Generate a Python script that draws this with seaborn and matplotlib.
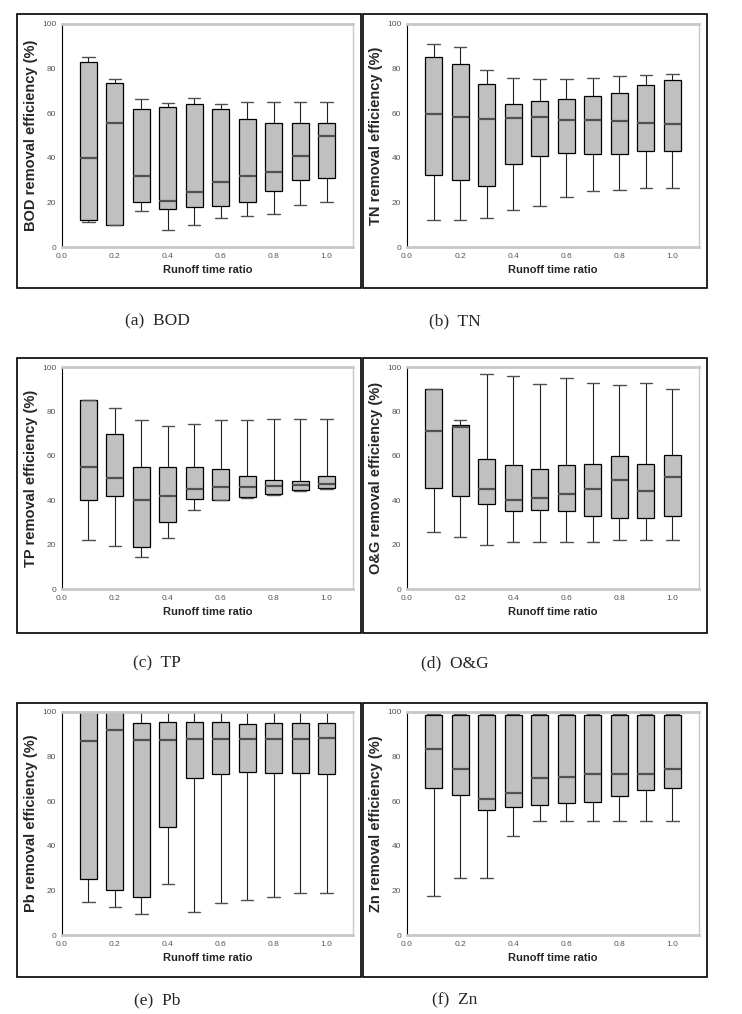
import numpy as np
import pandas as pd
import matplotlib
matplotlib.use("Agg")
import matplotlib.pyplot as plt
from matplotlib.patches import Rectangle
import seaborn as sns

runoff_ratio = [0.1, 0.2, 0.3, 0.4, 0.5, 0.6, 0.7, 0.8, 0.9, 1.0]

# (lower whisker, Q1, median, Q3, upper whisker) for each runoff time ratio
bod_stats = [(11, 12, 40, 83, 85), (10, 10, 55.5, 73.5, 75.5), (16, 20, 32, 62, 66.5),
             (7.5, 17, 20.5, 63, 64.5), (10, 18, 24.5, 64, 67), (13, 18.5, 29, 62, 64),
             (14, 20, 32, 57.5, 65), (15, 25, 33.5, 55.5, 65), (19, 30, 41, 55.5, 65),
             (20, 31, 50, 55.5, 65)]
tn_stats = [(12, 32.5, 59.5, 85, 91), (12, 30, 58.5, 82, 89.5), (13, 27.5, 57.5, 73, 79.5),
            (16.5, 37, 58, 64, 76), (18.5, 41, 58.5, 65.5, 75.5), (22.5, 42, 57, 66.5, 75.5),
            (25, 41.5, 57, 67.5, 76), (25.5, 41.5, 56.5, 69, 76.5), (26.5, 43, 55.5, 72.5, 77),
            (26.5, 43, 55, 75, 77.5)]
tp_stats = [(22, 40, 55, 85, 85), (19.5, 42, 50, 70, 81.5), (14.5, 19, 40, 55, 76),
            (23, 30, 42, 55, 73.5), (35.5, 40.5, 45, 55, 74.5), (40, 40, 46, 54, 76),
            (41, 41.5, 46, 51, 76), (42.5, 43, 46.5, 49, 76.5), (44, 44.5, 47, 48.5, 76.5),
            (45, 45.5, 47.5, 51, 76.5)]
og_stats = [(25.5, 45.5, 71, 90, 90), (23.5, 42, 73, 74, 76), (20, 38.5, 45, 58.5, 97),
            (21, 35, 40, 56, 96), (21, 35.5, 41, 54, 92.5), (21, 35, 43, 56, 95),
            (21, 33, 45, 56.5, 93), (22, 32, 49, 60, 92), (22, 32, 44, 56.5, 93),
            (22, 33, 50.5, 60.5, 90)]
pb_stats = [(15, 25, 87, 100, 100), (12.5, 20, 92, 100, 100), (9.5, 17, 87.5, 95, 100),
            (23, 48.5, 87.5, 95.5, 100), (10.5, 70.5, 88, 95.5, 100), (14.5, 72, 88, 95.5, 100),
            (15.5, 73, 88, 94.5, 100), (17, 72.5, 88, 95, 100), (19, 72.5, 88, 95, 100),
            (19, 72, 88.5, 95, 100)]
zn_stats = [(17.5, 66, 83.5, 98.5, 99), (25.5, 63, 74.5, 98.5, 99), (25.5, 56, 61, 98.5, 99),
            (44.5, 57.5, 63.5, 98.5, 99), (51, 58.5, 70.5, 98.5, 99), (51, 59, 71, 98.5, 99),
            (51, 59.5, 72, 98.5, 99), (51, 62.5, 72, 98.5, 99), (51, 65, 72, 98.5, 99),
            (51, 66, 74.5, 98.5, 99)]

panel_names = ["BOD", "TN", "TP", "O&G", "Pb", "Zn"]
panel_letters = ["a", "b", "c", "d", "e", "f"]
panel_stats = [bod_stats, tn_stats, tp_stats, og_stats, pb_stats, zn_stats]
x_ticks = [0.0, 0.2, 0.4, 0.6, 0.8, 1.0]
y_ticks = [0, 20, 40, 60, 80, 100]

W, H = 742, 1014
fig = plt.figure(figsize=(W / 100, H / 100), dpi=100)
sns.set_style("white")
plt.rcParams["font.family"] = ["Liberation Sans", "DejaVu Sans"]


def fx(px):
    return px / W


def fy(py):
    return 1 - py / H


# pixel layout of each panel: axes left/right, axes top/bottom, frame box
col_axes = [(62, 353), (407, 699)]
col_frame = [(17, 361), (363, 707)]
row_axes = [(24, 247), (367, 589), (712, 935)]
row_frame = [(14, 288), (358, 633), (703, 977)]
row_caption = [321, 663, 1000]
col_caption = [157, 455]

for i, (name, stats) in enumerate(zip(panel_names, panel_stats)):
    r, c = divmod(i, 2)
    x0, x1 = col_axes[c]
    y0, y1 = row_axes[r]
    ax = fig.add_axes([fx(x0), fy(y1), fx(x1 - x0), (y1 - y0) / H])

    df = pd.DataFrame(
        [(x, v) for x, s in zip(runoff_ratio, stats) for v in s],
        columns=["ratio", "value"],
    )
    sns.boxplot(data=df, x="ratio", y="value", native_scale=True, whis=(0, 100),
                width=0.64, color="#c0c0c0", saturation=1, linecolor="black",
                linewidth=0.9, showfliers=False, capwidths=0.047,
                medianprops={"color": "#505050", "linewidth": 1.6},
                capprops={"color": "#505050", "linewidth": 1.0},
                whiskerprops={"color": "#202020", "linewidth": 0.8},
                ax=ax)

    ax.set_xlim(0, 1.1)
    ax.set_ylim(0, 100)
    ax.set_xticks(x_ticks)
    ax.set_xticklabels([f"{t:.1f}" for t in x_ticks])
    ax.set_yticks(y_ticks)
    ax.set_yticklabels([str(t) for t in y_ticks])
    ax.tick_params(labelsize=6, colors="#555555", length=2, width=0.6, pad=2)
    ax.set_xlabel("Runoff time ratio", fontsize=8, fontweight="bold", labelpad=4)
    ax.set_ylabel(f"{name} removal efficiency (%)", fontsize=10.5, fontweight="bold",
                  labelpad=3)
    for side in ["top", "bottom"]:
        ax.spines[side].set_color("#c8c8c8")
        ax.spines[side].set_linewidth(2)
    ax.spines["right"].set_color("#c8c8c8")
    ax.spines["right"].set_linewidth(1)
    ax.spines["left"].set_color("black")
    ax.spines["left"].set_linewidth(0.8)

    fl, fr = col_frame[c]
    ft, fb = row_frame[r]
    fig.patches.append(Rectangle((fx(fl), fy(fb)), fx(fr - fl), (fb - ft) / H,
                                 transform=fig.transFigure, fill=False,
                                 edgecolor="black", linewidth=1.2))
    fig.text(fx(col_caption[c]), fy(row_caption[r]),
             f"({panel_letters[i]})  {name}", ha="center", va="center",
             fontsize=12.5, family=["Liberation Serif", "DejaVu Serif"])

fig.savefig("out.png", dpi=100)
